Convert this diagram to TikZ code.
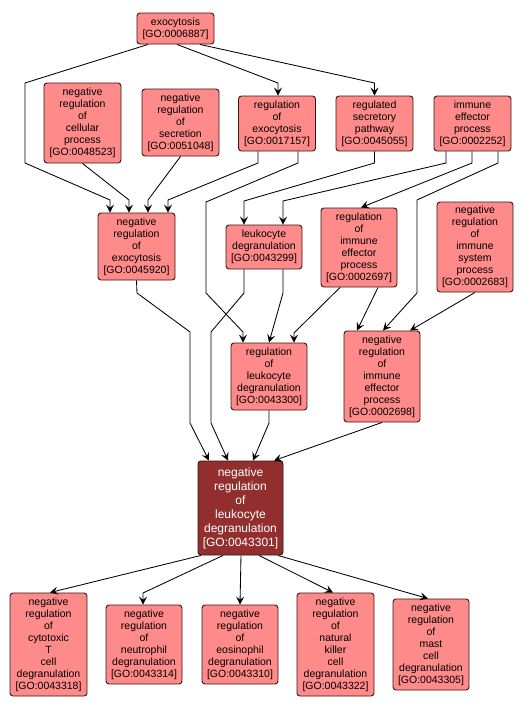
\documentclass[tikz,border=0pt]{standalone}
\usepackage{fontspec}
\setmainfont{Liberation Sans}
\usetikzlibrary{arrows.meta,calc}
\definecolor{gofill}{HTML}{FF8A8A}
\definecolor{godark}{HTML}{922E2E}
\definecolor{goline}{HTML}{3A1616}
\tikzset{
  gobox/.style={draw=goline, fill=gofill, rounded corners=3pt, line width=0.9pt,
    align=center, inner sep=0pt, text=black,
    font=\fontsize{10.5}{12}\selectfont, minimum width=77pt},
  gomain/.style={gobox, fill=godark, text=white, font=\fontsize{12}{14}\selectfont, minimum width=85pt},
  goedge/.style={draw=black, line width=0.85pt, -{Stealth[length=8pt,width=8pt,inset=3.2pt]}},
}
\begin{document}
\begin{tikzpicture}[x=1pt,y=-1pt]
\useasboundingbox (0,0) rectangle (532,710);
\fill[white] (0,0) rectangle (532,710);
% nodes
\node[gobox, minimum height=31pt] (A) at (175.5,28.5) {exocytosis\\{[GO:0006887]}};
\node[gobox, minimum height=80pt] (B) at (82.5,123) {negative\\regulation\\of\\cellular\\process\\{[GO:0048523]}};
\node[gobox, minimum height=67pt] (C) at (180.5,122.5) {negative\\regulation\\of\\secretion\\{[GO:0051048]}};
\node[gobox, minimum height=55pt] (D) at (277,123.5) {regulation\\of\\exocytosis\\{[GO:0017157]}};
\node[gobox, minimum height=55pt] (E) at (374.5,123.5) {regulated\\secretory\\pathway\\{[GO:0045055]}};
\node[gobox, minimum height=55pt] (F) at (472.5,123.5) {immune\\effector\\process\\{[GO:0002252]}};
\node[gobox, minimum height=67pt] (G) at (136.5,246.5) {negative\\regulation\\of\\exocytosis\\{[GO:0045920]}};
\node[gobox, minimum height=44pt, minimum width=76pt] (H) at (264,247) {leukocyte\\degranulation\\{[GO:0043299]}};
\node[gobox, minimum height=79pt, minimum width=76pt] (I) at (359,247.5) {regulation\\of\\immune\\effector\\process\\{[GO:0002697]}};
\node[gobox, minimum height=90pt, minimum width=76pt] (J) at (475,247) {negative\\regulation\\of\\immune\\system\\process\\{[GO:0002683]}};
\node[gobox, minimum height=67pt, minimum width=76pt] (K) at (269,376.5) {regulation\\of\\leukocyte\\degranulation\\{[GO:0043300]}};
\node[gobox, minimum height=91pt, minimum width=76pt] (L) at (382,376.5) {negative\\regulation\\of\\immune\\effector\\process\\{[GO:0002698]}};
\node[gomain, minimum height=94pt] (M) at (240.5,508) {negative\\regulation\\of\\leukocyte\\degranulation\\{[GO:0043301]}};
\node[gobox, minimum height=103pt] (N1) at (48.5,644.5) {negative\\regulation\\of\\cytotoxic\\T\\cell\\degranulation\\{[GO:0043318]}};
\node[gobox, minimum height=79pt, minimum width=76pt] (N2) at (144,644.5) {negative\\regulation\\of\\neutrophil\\degranulation\\{[GO:0043314]}};
\node[gobox, minimum height=79pt, minimum width=76pt] (N3) at (240,644.5) {negative\\regulation\\of\\eosinophil\\degranulation\\{[GO:0043310]}};
\node[gobox, minimum height=103pt] (N4) at (335.5,644.5) {negative\\regulation\\of\\natural\\killer\\cell\\degranulation\\{[GO:0043322]}};
\node[gobox, minimum height=91pt, minimum width=76pt] (N5) at (431,644.5) {negative\\regulation\\of\\mast\\cell\\degranulation\\{[GO:0043305]}};
% edges
\draw[goedge] ($(A.south)+(-27.5,0)$) -- (25,83) -- (25,163) -- (110,200) -- ($(G.north)+(-26.5,0)$);
\draw[goedge] (B.south) -- (129,200) -- ($(G.north)+(-7.5,0)$);
\draw[goedge] (C.south) -- (148,200) -- ($(G.north)+(11.5,0)$);
\draw[goedge] ($(D.south)+(-19,0)$) -- (258,163) -- (168,200) -- ($(G.north)+(31.5,0)$);
\draw[goedge] ($(A.south)+(1.5,0)$) -- (278,83) -- ($(D.north)+(1,0)$);
\draw[goedge] ($(A.south)+(24.5,0)$) -- (374.5,83) -- (E.north);
\draw[goedge] ($(D.south)+(21,0)$) -- (298,163) -- (206,202) -- (206,293) -- (243,332) -- ($(K.north)+(-26,0)$);
\draw[goedge] (E.south) -- (374.5,163) -- (244,201) -- ($(H.north)+(-20,0)$);
\draw[goedge] ($(F.south)+(-26.5,0)$) -- (446,163) -- (283,201) -- ($(H.north)+(19,0)$);
\draw[goedge] ($(F.south)+(-0.5,0)$) -- (472,163) -- ($(I.north)+(2,0)$);
\draw[goedge] ($(F.south)+(25.5,0)$) -- (498,163) -- (417,200) -- (417,293) -- ($(L.north)+(1,0)$);
\draw[goedge] (G.south) -- (137,293) -- (190,332) -- (190,423) -- ($(M.north)+(-31.5,0)$);
\draw[goedge] ($(H.south)+(-20,0)$) -- (244,293) -- (211,332) -- (211,423) -- ($(M.north)+(-12.5,0)$);
\draw[goedge] ($(H.south)+(19,0)$) -- (283,293) -- (K.north);
\draw[goedge] ($(I.south)+(-19,0)$) -- (294,333) -- ($(K.north)+(25,0)$);
\draw[goedge] ($(I.south)+(19,0)$) -- ($(L.north)+(-25,0)$);
\draw[goedge] (J.south) -- ($(L.north)+(28,0)$);
\draw[goedge] (K.south) -- (269,423) -- ($(M.north)+(12.5,0)$);
\draw[goedge] (L.south) -- ($(M.north)+(33.5,0)$);
\draw[goedge] ($(M.south)+(-39.5,0)$) -- ($(N1.north)+(1.5,0)$);
\draw[goedge] ($(M.south)+(-17.5,0)$) -- (143,593) -- ($(N2.north)+(-1,0)$);
\draw[goedge] ($(M.south)+(0.5,0)$) -- (N3.north);
\draw[goedge] ($(M.south)+(18.5,0)$) -- ($(N4.north)+(-2.5,0)$);
\draw[goedge] ($(M.south)+(37.5,0)$) -- ($(N5.north)+(-3,0)$);
\end{tikzpicture}
\end{document}
